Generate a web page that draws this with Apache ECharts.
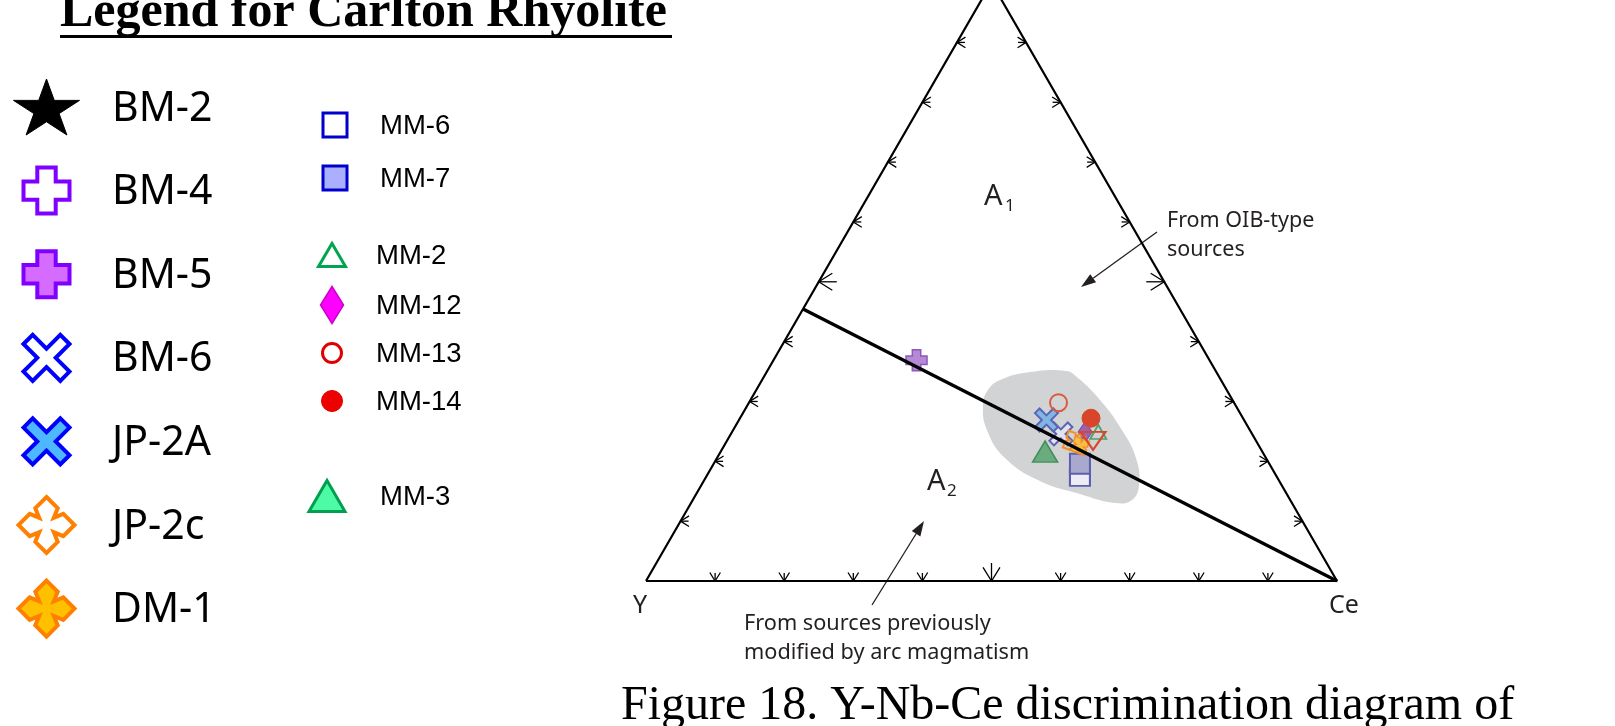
<!DOCTYPE html>
<html><head><meta charset="utf-8">
<script src="https://cdn.jsdelivr.net/npm/echarts@6/dist/echarts.min.js"></script>
<style>html,body{margin:0;padding:0;background:#fff}#c{width:1615px;height:726px}</style>
</head><body><div id="c"></div>
<script>
// ---------- data : compositions as [Y, Nb, Ce] (%) ----------
const legendLeftNames  = ['BM-2', 'BM-4', 'BM-5', 'BM-6', 'JP-2A', 'JP-2c', 'DM-1'];
const legendRightNames = ['MM-6', 'MM-7', 'MM-2', 'MM-12', 'MM-13', 'MM-14', 'MM-3'];
const bm2  = [];
const bm4  = [];
const bm5  = [[42.4, 36.9, 20.7]];
const bm6  = [[27.7, 24.6, 47.8]];
const jp2a = [[28.6, 26.9, 44.5]];
const jp2c = [[26.4, 23.2, 50.3]];
const dm1  = [[25.9, 22.6, 51.5]];
const mm6  = [[28.5, 17.4, 54.1]];
const mm7  = [[27.4, 19.6, 53.0]];
const mm2  = [[22.1, 24.9, 53.0]];
const mm12 = [[24.0, 24.9, 51.1]];
const mm13 = [[25.4, 29.8, 44.8]];
const mm14 = [[22.0, 27.2, 50.8]];
const mm3  = [[31.4, 21.6, 46.9]];
const otherSample = [[23.6, 23.4, 53.0]];
// grey field enclosing the samples
const fieldOutline = [
  [31.97, 33.59, 34.44], [26.96, 34.93, 38.11], [21.68, 35.09, 43.23], [20.52, 33.92, 45.56],
  [19.17, 30.25, 50.58], [18.54, 25.73, 55.73], [18.82, 20.55, 60.63], [20.63, 16.04, 63.33],
  [22.90, 13.54, 63.56], [25.62, 13.03, 61.35], [29.92, 14.54, 55.54], [34.63, 16.71, 48.66],
  [37.78, 20.55, 41.67], [38.04, 25.23, 36.73], [36.53, 29.41, 34.06], [34.55, 31.92, 33.53]
];
const triangleCorners = [[100, 0, 0], [0, 0, 100], [0, 100, 0], [100, 0, 0]];
const dividerLine = [[54.55, 45.45, 0], [0, 0, 100]];   // Y/Nb = 1.2
const tickFractions = [10, 20, 30, 40, 50, 60, 70, 80, 90];
const cornerLabels = ['Y', 'Ce'];
const fieldLabels = [['A', '1'], ['A', '2']];
const noteOIB = ['From OIB-type', 'sources'];
const noteArc = ['From sources previously', 'modified by arc magmatism'];
const legendTitle = 'Legend for Carlton Rhyolite';
const caption = 'Figure 18. Y-Nb-Ce discrimination diagram of';

// ---------- helpers ----------
const H = Math.sqrt(3) / 2;
function tern(p) { const t = p[0] + p[1] + p[2]; const nb = p[1] / t, ce = p[2] / t; return [ce + nb / 2, nb * H]; }

function starPts() { const a = []; for (let i = 0; i < 10; i++) { const ang = (-90 + i * 36) * Math.PI / 180; const r = i % 2 ? 19.1 : 50; a.push([50 + r * Math.cos(ang), 50 + r * Math.sin(ang)]); } return a; }
const SHAPES = {
  plus:  [[30,0],[70,0],[70,30],[100,30],[100,70],[70,70],[70,100],[30,100],[30,70],[0,70],[0,30],[30,30]],
  cross: [[0,20],[20,0],[50,30],[80,0],[100,20],[70,50],[100,80],[80,100],[50,70],[20,100],[0,80],[30,50]],
  four:  [[50,0],[70,20],[63,37],[80,30],[100,50],[80,70],[63,63],[70,80],[50,100],[30,80],[37,63],[20,70],[0,50],[20,30],[37,37],[30,20]],
  star:  starPts(),
  rect:  [[0,0],[100,0],[100,100],[0,100]],
  tri:   [[50,0],[100,100],[0,100]],
  diamond: [[50,0],[100,50],[50,100],[0,50]]
};
function pathOf(name) { return 'path://' + SHAPES[name].map((p, i) => (i ? 'L' : 'M') + p[0].toFixed(2) + ' ' + p[1].toFixed(2)).join(' ') + ' Z'; }
function fitPts(name, cx, cy, w, h) {
  const pts = SHAPES[name]; const xs = pts.map(p => p[0]), ys = pts.map(p => p[1]);
  const x0 = Math.min(...xs), x1 = Math.max(...xs), y0 = Math.min(...ys), y1 = Math.max(...ys);
  return pts.map(p => [cx - w / 2 + (p[0] - x0) / (x1 - x0) * w, cy - h / 2 + (p[1] - y0) / (y1 - y0) * h]);
}

// ---------- series ----------
function scatter(name, data, symbol, size, fill, stroke, lw, rotate) {
  return { type: 'scatter', name, data: data.map(tern), symbol, symbolSize: size, symbolRotate: rotate || 0,
    itemStyle: { color: fill, borderColor: stroke, borderWidth: lw, opacity: 1 }, z: 3, silent: true };
}
const series = [
  { type: 'custom', name: 'field', coordinateSystem: 'cartesian2d', silent: true, z: 1,
    data: [tern(fieldOutline[0])],
    renderItem: (params, api) => ({ type: 'polygon', shape: { points: fieldOutline.map(p => api.coord(tern(p))), smooth: 0.45 },
      style: { fill: '#d1d3d4', stroke: null } }) },
  scatter('BM-2', bm2, pathOf('star'), 16, '#000', '#000', 1),
  scatter('BM-4', bm4, pathOf('plus'), 20, '#fff', '#8a5bb8', 1.5),
  scatter('MM-6', mm6, 'rect', [20, 18], '#ececf4', '#5b5fae', 2),
  scatter('MM-7', mm7, 'rect', [20, 20], '#a9a8cf', '#5b5fae', 2),
  scatter('MM-3', mm3, 'triangle', [25, 21], '#6cab7e', '#3f915a', 1.5),
  scatter('MM-12', mm12, 'diamond', [14, 21], '#9a62b4', '#7a4a9a', 1),
  scatter('MM-2', mm2, 'triangle', [16, 14], 'rgba(255,255,255,0)', '#4da36b', 1.8),
  scatter('BM-6', bm6, pathOf('cross'), 23, '#e2e3ee', '#5a66b5', 2),
  scatter('JP-2A', jp2a, pathOf('cross'), 23, '#82b6e2', '#5a66b5', 2),
  scatter('MM-13', mm13, 'circle', 17, 'rgba(255,255,255,0)', '#db5a3c', 2),
  scatter('JP-2c', jp2c, pathOf('four'), 25, 'rgba(255,255,255,0)', '#f0902a', 2, 25),
  scatter('DM-1', dm1, pathOf('four'), 21, '#f7bd44', '#f0902a', 1.5, 25),
  scatter('other', otherSample, 'triangle', [25, 18], 'rgba(255,255,255,0)', '#d9452b', 2, 180),
  scatter('MM-14', mm14, 'circle', 18, '#d9452b', '#d9452b', 1),
  scatter('BM-5', bm5, pathOf('plus'), 21, '#b689d6', '#8a5bb8', 1.5),
  { type: 'line', name: 'frame', data: triangleCorners.map(tern), symbol: 'none', clip: true, silent: true, z: 5,
    lineStyle: { color: '#000', width: 2.2 } },
  { type: 'line', name: 'divider', data: dividerLine.map(tern), symbol: 'none', clip: true, silent: true, z: 5,
    lineStyle: { color: '#000', width: 3.3 } },
  { type: 'custom', name: 'ticks', coordinateSystem: 'cartesian2d', silent: true, z: 5, clip: true,
    data: [].concat(
      tickFractions.map(f => tern([100 - f, 0, f]).concat([0, f === 50 ? 1 : 0])),
      tickFractions.map(f => tern([100 - f, f, 0]).concat([1, f === 50 ? 1 : 0])),
      tickFractions.map(f => tern([0, f, 100 - f]).concat([2, f === 50 ? 1 : 0]))),
    renderItem: (params, api) => {
      const p = api.coord([api.value(0), api.value(1)]);
      const dir = api.value(2), big = api.value(3);
      if (p[1] < 2) return null;
      const d = dir === 0 ? [0, 1] : dir === 1 ? [-1, 0] : [1, 0];
      const back = [-d[0], -d[1]];
      const L = big ? 18 : 8, A = big ? 16 : 10, ang = 32 * Math.PI / 180;
      const rot = (v, a) => [v[0] * Math.cos(a) - v[1] * Math.sin(a), v[0] * Math.sin(a) + v[1] * Math.cos(a)];
      const a1 = rot(back, ang), a2 = rot(back, -ang);
      const st = { stroke: '#000', fill: null, lineWidth: 1.3 };
      return { type: 'group', children: [
        { type: 'line', shape: { x1: p[0], y1: p[1], x2: p[0] + back[0] * L, y2: p[1] + back[1] * L }, style: st },
        { type: 'polyline', shape: { points: [[p[0] + a1[0] * A, p[1] + a1[1] * A], p, [p[0] + a2[0] * A, p[1] + a2[1] * A]] }, style: st }
      ] };
    } }
];

// ---------- annotation & legend graphics ----------
const G = [];
function txt(text, x, y, font, size, opts) {
  G.push(Object.assign({ type: 'text', x, y, silent: true, style: Object.assign({ text, fontFamily: font, fontSize: size, fill: '#000', align: 'left', verticalAlign: 'middle' }, opts || {}) }));
}
function arrow(x0, y0, x1, y1) {
  const dx = x1 - x0, dy = y1 - y0, len = Math.hypot(dx, dy), ux = dx / len, uy = dy / len;
  const hl = 15, hw = 5;
  const bx = x1 - ux * hl, by = y1 - uy * hl;
  G.push({ type: 'line', silent: true, shape: { x1: x0, y1: y0, x2: bx, y2: by }, style: { stroke: '#231f20', lineWidth: 1.3 } });
  G.push({ type: 'polygon', silent: true, shape: { points: [[x1, y1], [bx - uy * hw, by + ux * hw], [bx + uy * hw, by - ux * hw]] }, style: { fill: '#231f20' } });
}
// title
txt(legendTitle, 60, 13, 'Liberation Serif', 50, { fontWeight: 'bold' });
G.push({ type: 'rect', silent: true, shape: { x: 60, y: 35, width: 612, height: 3 }, style: { fill: '#000' } });

// legend left column
const leftSpec = [
  ['star', 66, 56, '#000000', '#000000', 1],
  ['plus', 46, 46, '#ffffff', '#8000ff', 4],
  ['plus', 46, 46, '#d56cff', '#8000ff', 4],
  ['cross', 46, 46, '#ffffff', '#0000ff', 4],
  ['cross', 46, 46, '#4db8ff', '#0000ff', 4],
  ['four', 56, 56, '#ffffff', '#ff8000', 4],
  ['four', 56, 56, '#ffc000', '#ff8000', 4]
];
legendLeftNames.forEach((n, i) => {
  const cy = 107 + i * 83.6, s = leftSpec[i];
  G.push({ type: 'polygon', silent: true, shape: { points: fitPts(s[0], 46.5, cy, s[1], s[2]) }, style: { fill: s[3], stroke: s[4], lineWidth: s[5], lineJoin: 'miter' } });
  txt(n, 112, cy + 2, 'Noto Sans', 41);
});
// legend right column
const rightY = [125, 178, 255, 305, 353, 401, 496];
const rightX = [380, 380, 376, 376, 376, 376, 380];
const rightCX = [335, 335, 332, 332, 332, 332, 327];
const rightSpec = [
  ['rect', 24, 24, '#ffffff', '#0000cc', 3],
  ['rect', 24, 24, '#aab0ff', '#0000cc', 3],
  ['tri', 27, 23, '#ffffff', '#00a550', 3],
  ['diamond', 23, 37, '#ff00ff', '#cc00cc', 1.5],
  ['circle', 19, 19, '#ffffff', '#e00000', 3],
  ['circle', 21, 21, '#ee0000', '#e00000', 1],
  ['tri', 36, 31, '#4dfaa6', '#00a050', 3]
];
legendRightNames.forEach((n, i) => {
  const s = rightSpec[i];
  if (s[0] === 'circle') {
    G.push({ type: 'circle', silent: true, shape: { cx: rightCX[i], cy: rightY[i], r: s[1] / 2 }, style: { fill: s[3], stroke: s[4], lineWidth: s[5] } });
  } else {
    G.push({ type: 'polygon', silent: true, shape: { points: fitPts(s[0], rightCX[i], rightY[i], s[1], s[2]) }, style: { fill: s[3], stroke: s[4], lineWidth: s[5] } });
  }
  txt(n, rightX[i], rightY[i] + 1.5, 'Liberation Sans', 27.5);
});

// chart labels
txt(fieldLabels[0][0], 984, 197, 'Noto Sans', 29, { fill: '#231f20' });
txt(fieldLabels[0][1], 1005, 206, 'Noto Sans', 17, { fill: '#231f20' });
txt(fieldLabels[1][0], 927, 482, 'Noto Sans', 29, { fill: '#231f20' });
txt(fieldLabels[1][1], 947, 491, 'Noto Sans', 17, { fill: '#231f20' });
txt(cornerLabels[0], 640, 606, 'Noto Sans', 25, { align: 'center', fill: '#231f20' });
txt(cornerLabels[1], 1329, 606, 'Noto Sans', 25, { fill: '#231f20' });
txt(noteOIB[0], 1167, 221, 'Noto Sans', 21.5, { fill: '#231f20' });
txt(noteOIB[1], 1167, 250, 'Noto Sans', 21.5, { fill: '#231f20' });
txt(noteArc[0], 744, 624, 'Noto Sans', 21.7, { fill: '#231f20' });
txt(noteArc[1], 744, 653, 'Noto Sans', 21.7, { fill: '#231f20' });
arrow(1157, 232, 1081, 287);
arrow(872, 605, 924, 521);
txt(caption, 621, 706, 'Liberation Serif', 48);

const chart = echarts.init(document.getElementById('c'), null, { renderer: 'canvas' });
chart.setOption({
  animation: false,
  backgroundColor: '#fff',
  grid: { left: 646, right: 278, top: 0, bottom: 145 },
  xAxis: { type: 'value', min: 0, max: 1, show: false },
  yAxis: { type: 'value', min: 0, max: 0.84081, show: false },
  series,
  graphic: G
});
</script></body></html>
